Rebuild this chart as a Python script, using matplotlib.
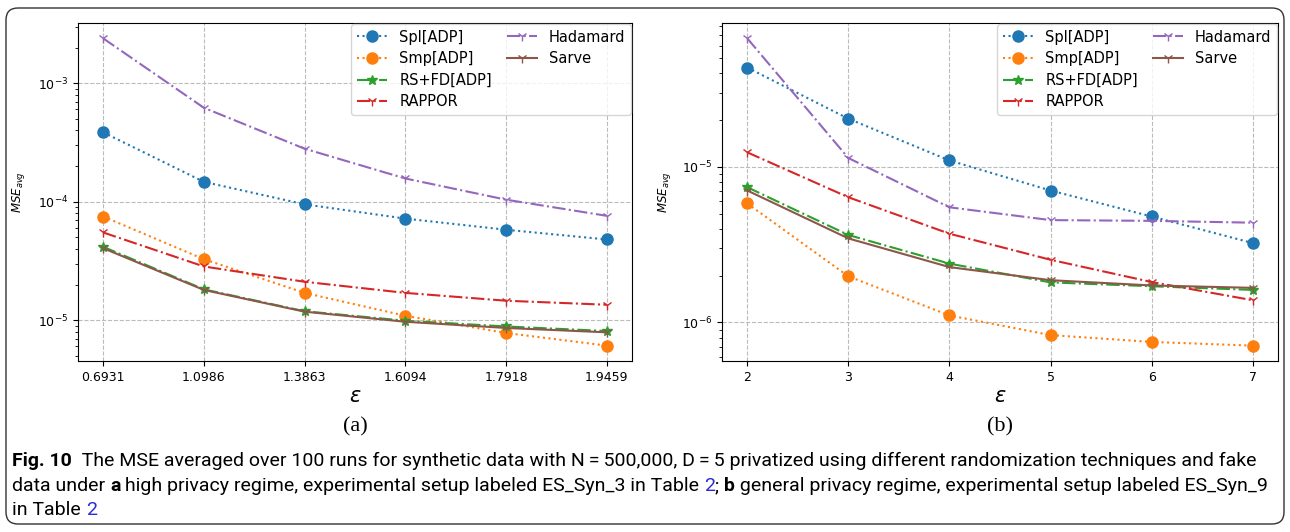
import matplotlib
matplotlib.use("Agg")
import matplotlib.pyplot as plt
from matplotlib.patches import FancyBboxPatch
from matplotlib.lines import Line2D

# --- data ---
eps_a = ["0.6931", "1.0986", "1.3863", "1.6094", "1.7918", "1.9459"]
eps_b = [2, 3, 4, 5, 6, 7]

labels = ["Spl[ADP]", "Smp[ADP]", "RS+FD[ADP]", "RAPPOR", "Hadamard", "Sarve"]

spl_a = [3.85e-4, 1.47e-4, 9.5e-5, 7.2e-5, 5.8e-5, 4.8e-5]
smp_a = [7.5e-5, 3.27e-5, 1.7e-5, 1.09e-5, 7.8e-6, 6.1e-6]
rsfd_a = [4.16e-5, 1.82e-5, 1.19e-5, 9.9e-6, 8.85e-6, 8.1e-6]
rappor_a = [5.5e-5, 2.84e-5, 2.11e-5, 1.7e-5, 1.46e-5, 1.35e-5]
hadamard_a = [2.39e-3, 6.2e-4, 2.8e-4, 1.57e-4, 1.04e-4, 7.6e-5]
sarve_a = [4.05e-5, 1.8e-5, 1.18e-5, 9.7e-6, 8.6e-6, 7.9e-6]

spl_b = [4.35e-5, 2.04e-5, 1.1e-5, 7.05e-6, 4.8e-6, 3.24e-6]
smp_b = [5.82e-6, 1.98e-6, 1.11e-6, 8.3e-7, 7.5e-7, 7.1e-7]
rsfd_b = [7.4e-6, 3.65e-6, 2.39e-6, 1.81e-6, 1.71e-6, 1.62e-6]
rappor_b = [1.24e-5, 6.38e-6, 3.72e-6, 2.53e-6, 1.82e-6, 1.39e-6]
hadamard_b = [6.7e-5, 1.14e-5, 5.5e-6, 4.55e-6, 4.5e-6, 4.38e-6]
sarve_b = [7.05e-6, 3.47e-6, 2.27e-6, 1.87e-6, 1.73e-6, 1.67e-6]

styles = [
    dict(color="C0", ls=":", marker="o", ms=8),
    dict(color="C1", ls=":", marker="o", ms=8),
    dict(color="C2", ls="-.", marker="*", ms=7.5),
    dict(color="C3", ls="-.", marker="1", ms=7.5),
    dict(color="C4", ls="-.", marker="1", ms=7.5),
    dict(color="C5", ls="-", marker="1", ms=7.5),
]

W, H = 1290, 532
fig = plt.figure(figsize=(W / 100, H / 100), dpi=100)

# rounded frame around the whole figure panel
bg = fig.add_axes([0, 0, 1, 1], zorder=-5)
bg.set_xlim(0, W)
bg.set_ylim(H, 0)
bg.axis("off")
bg.add_patch(FancyBboxPatch((6, 8), W - 12, H - 16,
                            boxstyle="round,pad=0,rounding_size=12",
                            fc="white", ec="#333333", lw=1.0))


def panel(rect, x, series, xticklabels, tag, ylab_x):
    ax = fig.add_axes(rect)
    for y, lab, st in zip(series, labels, styles):
        ax.plot(x, y, label=lab, lw=1.5, **st)
    ax.set_yscale("log")
    ax.set_xticks(x)
    ax.set_xticklabels(xticklabels)
    ax.tick_params(labelsize=9)
    ax.grid(True, ls="--", color="#bbbbbb", lw=0.8)
    ax.set_ylabel("$MSE_{avg}$", fontsize=8.5)
    ax.yaxis.set_label_coords(ylab_x, 0.5)
    ax.set_xlabel(r"$\varepsilon$", fontsize=15, labelpad=2)
    h, l = ax.get_legend_handles_labels()
    blank = Line2D([], [], ls="none")
    h = h + [blank, blank]
    l = l + [" ", " "]
    ax.legend(h, l, ncol=2, loc="upper right", fontsize=10.5,
              labelspacing=0.45, handlelength=2.05, borderaxespad=0.05,
              columnspacing=1.0, handletextpad=0.85, borderpad=0.4,
              fancybox=True)
    cx = rect[0] + rect[2] / 2
    fig.text(cx, 1 - 427 / H, tag, ha="center", va="center",
             fontsize=16, family=["Liberation Serif", "DejaVu Serif"])
    return ax


pos_a = list(range(len(eps_a)))
panel([78 / W, 1 - 361 / H, 554 / W, 338 / H], pos_a,
      [spl_a, smp_a, rsfd_a, rappor_a, hadamard_a, sarve_a], eps_a, "(a)",
      -0.092)
panel([722 / W, 1 - 361 / H, 556 / W, 338 / H], eps_b,
      [spl_b, smp_b, rsfd_b, rappor_b, hadamard_b, sarve_b],
      [str(v) for v in eps_b], "(b)", -0.088)

# --- caption, drawn piece by piece so bold/blue bits sit inline ---
cap_font = ["Roboto", "DejaVu Sans"]
cap_size = 14

lines = [
    [("Fig. 10", "bold", "black"),
     ("  The MSE averaged over 100 runs for synthetic data with N\u2009=\u2009500,000, "
      "D\u2009=\u20095 privatized using different randomization techniques and fake", "normal", "black")],
    [("data under ", "normal", "black"), ("a", "bold", "black"),
     (" high privacy regime, experimental setup labeled ES_Syn_3 in Table ", "normal", "black"),
     ("2", "normal", "#2b2bd6"), ("; ", "normal", "black"), ("b", "bold", "black"),
     (" general privacy regime, experimental setup labeled ES_Syn_9", "normal", "black")],
    [("in Table ", "normal", "black"), ("2", "normal", "#2b2bd6")],
]
line_y = [461, 486, 510]

renderer = fig.canvas.get_renderer()
for segs, yy in zip(lines, line_y):
    xpix = 12
    for txt, wt, col in segs:
        t = fig.text(xpix / W, 1 - yy / H, txt, fontsize=cap_size,
                     family=cap_font, weight=wt, color=col,
                     ha="left", va="center")
        xpix += t.get_window_extent(renderer).width

fig.savefig("out.png", dpi=100)
